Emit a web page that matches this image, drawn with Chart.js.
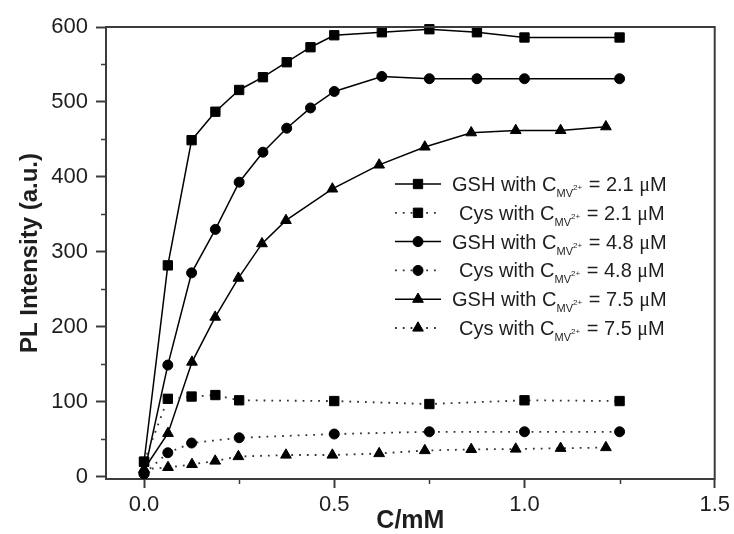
<!DOCTYPE html>
<html>
<head>
<meta charset="utf-8">
<script src="https://cdn.jsdelivr.net/npm/chart.js@4.4.1/dist/chart.umd.min.js"></script>
<style>
  html, body { margin: 0; padding: 0; background: #fff; }
</style>
</head>
<body>
<canvas id="plChart" width="734" height="534"></canvas>
<script>
// concentrations (mM)
const xGsh = [0, 0.0625, 0.125, 0.1875, 0.25, 0.3125, 0.375, 0.4375, 0.5, 0.625, 0.75, 0.875, 1.0, 1.25];
const xGsh75 = [0, 0.063, 0.126, 0.187, 0.248, 0.31, 0.373, 0.495, 0.618, 0.738, 0.86, 0.977, 1.095, 1.214];
const xCys21 = [0, 0.0625, 0.125, 0.1875, 0.25, 0.5, 0.75, 1.0, 1.25];
const xCys48 = [0, 0.0625, 0.125, 0.25, 0.5, 0.75, 1.0, 1.25];
const xCys75 = [0, 0.063, 0.126, 0.187, 0.248, 0.373, 0.495, 0.618, 0.738, 0.86, 0.977, 1.095, 1.214];

// PL intensity (a.u.)
const gsh21 = [20, 282, 449, 487, 516, 533, 553, 573, 589, 593, 597, 593, 586, 586];
const gsh48 = [4, 149, 272, 330, 393, 433, 465, 492, 514, 534, 531, 531, 531, 531];
const gsh75 = [10, 58, 153, 213, 265, 311, 342, 384, 416, 440, 459, 462, 462, 467];
const cys21 = [20, 104, 107, 109, 102, 101, 97, 102, 101];
const cys48 = [4, 32, 45, 52, 57, 60, 60, 60];
const cys75 = [10, 12.5, 16.5, 21, 27, 29, 29, 31, 35, 36.5, 37, 38, 39];

const seriesNames = ['GSH with ', 'Cys with ', 'GSH with ', 'Cys with ', 'GSH with ', 'Cys with '];
const seriesConc = ['2.1', '2.1', '4.8', '4.8', '7.5', '7.5'];

const xTicks = [0, 0.5, 1.0, 1.5];
const xMinor = [0.25, 0.75, 1.25];
const yTicks = [0, 100, 200, 300, 400, 500, 600];
const yMinor = [50, 150, 250, 350, 450, 550];

const FONT = "'Liberation Sans', Arial, sans-serif";
const AXIS = '#3c3c3c';
const TEXT = '#1e1e1e';

function pts(xs, ys) {
    return xs.map((v, i) => ({ x: v, y: ys[i] }));
}

function series(i, xs, ys, style, radius, dotted) {
    return {
        label: seriesNames[i] + 'CMV2+ = ' + seriesConc[i] + ' μM',
        data: pts(xs, ys),
        borderColor: dotted ? '#333' : '#000',
        borderWidth: dotted ? 1.8 : 1.5,
        borderDash: dotted ? [1.8, 6] : [],
        pointStyle: style,
        pointRadius: radius,
        pointBackgroundColor: '#000',
        pointBorderColor: '#000',
        pointBorderWidth: 1,
        tension: 0,
        clip: false
    };
}

const datasets = [
    series(0, xGsh, gsh21, 'rect', 6.6, false),
    series(1, xCys21, cys21, 'rect', 6.6, true),
    series(2, xGsh, gsh48, 'circle', 5, false),
    series(3, xCys48, cys48, 'circle', 5, true),
    series(4, xGsh75, gsh75, 'triangle', 6.2, false),
    series(5, xCys75, cys75, 'triangle', 6.2, true)
];

function drawMarker(ctx, style, r, x, y) {
    ctx.beginPath();
    if (style === 'rect') {
        const s = r * Math.SQRT1_2;
        ctx.rect(x - s, y - s, 2 * s, 2 * s);
    } else if (style === 'circle') {
        ctx.arc(x, y, r, 0, Math.PI * 2);
    } else {
        ctx.moveTo(x, y - r);
        ctx.lineTo(x + r * Math.sin(Math.PI / 3), y + r / 2);
        ctx.lineTo(x - r * Math.sin(Math.PI / 3), y + r / 2);
        ctx.closePath();
    }
    ctx.fill();
    ctx.stroke();
}

// frame, minor ticks and the legend with subscripts
const extras = {
    id: 'extras',
    afterDraw(chart) {
        const { ctx, chartArea: { left, right, top, bottom }, scales: { x, y } } = chart;
        ctx.save();
        ctx.strokeStyle = AXIS;
        ctx.lineWidth = 2;
        ctx.beginPath();
        ctx.moveTo(left - 1, top);
        ctx.lineTo(right, top);
        ctx.lineTo(right, bottom + 1);
        ctx.stroke();

        ctx.lineWidth = 1.5;
        ctx.beginPath();
        yMinor.forEach(v => {
            const py = Math.round(y.getPixelForValue(v)) + 0.5;
            ctx.moveTo(left - 5, py);
            ctx.lineTo(left, py);
        });
        xMinor.forEach(v => {
            const px = Math.round(x.getPixelForValue(v)) + 0.5;
            ctx.moveTo(px, bottom);
            ctx.lineTo(px, bottom + 5);
        });
        ctx.stroke();

        // legend
        const rowY0 = 184, rowStep = 28.8;
        chart.data.datasets.forEach((ds, i) => {
            const cy = rowY0 + i * rowStep;
            const dotted = ds.borderDash.length > 0;
            ctx.strokeStyle = ds.borderColor;
            ctx.lineWidth = ds.borderWidth;
            ctx.setLineDash(ds.borderDash);
            ctx.beginPath();
            ctx.moveTo(395, cy);
            ctx.lineTo(441, cy);
            ctx.stroke();
            ctx.setLineDash([]);
            ctx.fillStyle = '#000';
            ctx.strokeStyle = '#000';
            ctx.lineWidth = 1;
            drawMarker(ctx, ds.pointStyle, ds.pointRadius, 418, cy);

            let tx = dotted ? 459 : 452;
            const base = cy + 7;
            ctx.fillStyle = TEXT;
            ctx.textBaseline = 'alphabetic';
            ctx.textAlign = 'left';
            ctx.font = '20px ' + FONT;
            const main = seriesNames[i] + 'C';
            ctx.fillText(main, tx, base);
            tx += ctx.measureText(main).width;
            ctx.font = '11px ' + FONT;
            ctx.fillText('MV', tx, base + 6);
            tx += ctx.measureText('MV').width;
            ctx.font = '8px ' + FONT;
            ctx.fillText('2+', tx, base - 1);
            tx += ctx.measureText('2+').width + 1;
            ctx.font = '20px ' + FONT;
            const rest = ' = ' + seriesConc[i] + ' ';
            ctx.fillText(rest, tx, base);
            tx += ctx.measureText(rest).width;
            ctx.font = "20px 'Liberation Serif', 'Times New Roman', serif";
            ctx.fillText('μ', tx, base);
            tx += ctx.measureText('μ').width;
            ctx.font = '20px ' + FONT;
            ctx.fillText('M', tx, base);
        });
        ctx.restore();
    }
};

new Chart(document.getElementById('plChart'), {
    type: 'line',
    data: { datasets: datasets },
    options: {
        responsive: false,
        animation: false,
        devicePixelRatio: 1,
        layout: { padding: { top: 27, right: 19, left: 0, bottom: 0 } },
        plugins: {
            legend: { display: false },
            tooltip: { enabled: false }
        },
        scales: {
            x: {
                type: 'linear',
                min: -0.1,
                max: 1.5,
                afterBuildTicks: s => { s.ticks = xTicks.map(v => ({ value: v })); },
                afterFit: s => { s.height = 55; },
                ticks: {
                    color: TEXT,
                    padding: 4,
                    maxRotation: 0,
                    autoSkip: false,
                    font: { size: 22, family: FONT },
                    callback: v => Number(v).toFixed(1)
                },
                grid: { drawOnChartArea: false, tickLength: 9, tickWidth: 2, tickColor: AXIS },
                border: { color: AXIS, width: 2 },
                title: {
                    display: true,
                    text: 'C/mM',
                    color: TEXT,
                    padding: 0,
                    font: { size: 25, weight: 'bold', family: FONT, lineHeight: 1 }
                }
            },
            y: {
                min: -3,
                max: 600,
                afterBuildTicks: s => { s.ticks = yTicks.map(v => ({ value: v })); },
                afterFit: s => { s.width = 106; },
                ticks: {
                    color: TEXT,
                    padding: 8,
                    autoSkip: false,
                    font: { size: 22, family: FONT },
                    callback: v => String(v)
                },
                grid: { drawOnChartArea: false, tickLength: 10, tickWidth: 2, tickColor: AXIS },
                border: { color: AXIS, width: 2 },
                title: {
                    display: true,
                    text: 'PL Intensity (a.u.)',
                    color: TEXT,
                    padding: { top: 16, bottom: 0 },
                    font: { size: 24, weight: 'bold', family: FONT }
                }
            }
        }
    },
    plugins: [extras]
});
</script>
</body>
</html>
